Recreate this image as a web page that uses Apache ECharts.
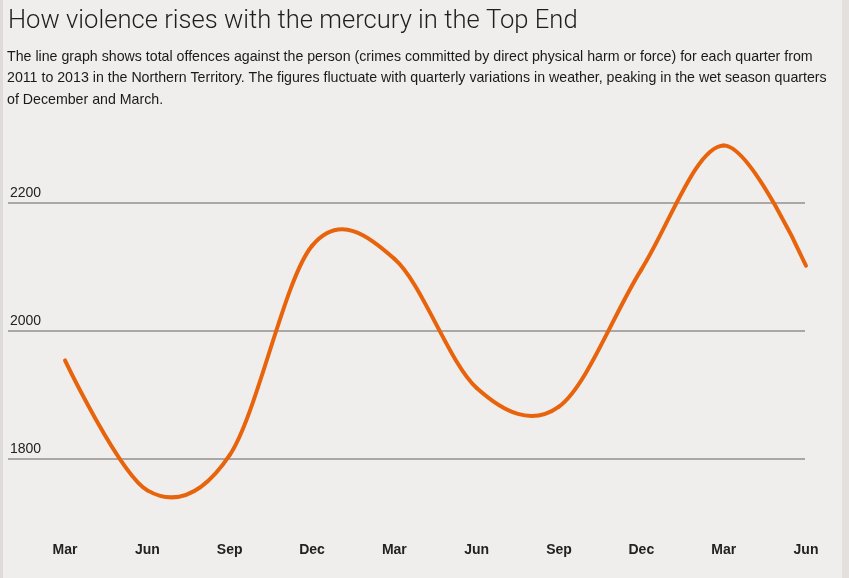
<!DOCTYPE html>
<html>
<head>
<meta charset="utf-8">
<script src="https://cdn.jsdelivr.net/npm/echarts@6/dist/echarts.min.js"></script>
<style>
  html, body { margin: 0; padding: 0; background: #f0eeec; }
  #chart { width: 849px; height: 578px; }
</style>
</head>
<body>
<div id="chart"></div>
<script>
// quarters 2011 - 2013
var quarters = ['Mar', 'Jun', 'Sep', 'Dec', 'Mar', 'Jun', 'Sep', 'Dec', 'Mar', 'Jun'];
// total offences against the person
var offences = [1954, 1751, 1806, 2133, 2113, 1911, 1882, 2096, 2290, 2102];
var yTicks = [1800, 2000, 2200];

var titleText = 'How violence rises with the mercury in the Top End';
var subText = 'The line graph shows total offences against the person (crimes committed by direct physical harm or force) for each quarter from\n' +
    '2011 to 2013 in the Northern Territory. The figures fluctuate with quarterly variations in weather, peaking in the wet season quarters\n' +
    'of December and March.';

var K = 1 / 6; // cardinal spline, tension 0

// pixel point of data index j, clamped to the ends
function pt(api, j) {
    j = Math.max(0, Math.min(offences.length - 1, j));
    return api.coord([j, offences[j]]);
}

// each item draws the curve piece from point i to point i + 1
function renderSegment(params, api) {
    var i = params.dataIndex;
    var last = offences.length - 1;
    if (i >= last) return;
    var a = pt(api, i), b = pt(api, i + 1);
    var c1 = a, c2 = b;
    if (i > 0) {
        var p0 = pt(api, i - 1);
        c1 = [a[0] + K * (b[0] - p0[0]), a[1] + K * (b[1] - p0[1])];
    }
    if (i + 1 < last) {
        var p3 = pt(api, i + 2);
        c2 = [b[0] - K * (p3[0] - a[0]), b[1] - K * (p3[1] - a[1])];
    }
    return {
        type: 'bezierCurve',
        shape: {
            x1: a[0], y1: a[1],
            x2: b[0], y2: b[1],
            cpx1: c1[0], cpy1: c1[1],
            cpx2: c2[0], cpy2: c2[1]
        },
        style: {
            fill: null,
            stroke: '#e8640c',
            lineWidth: 4,
            lineCap: 'round'
        }
    };
}

var chart = echarts.init(document.getElementById('chart'));
var option = {
    backgroundColor: '#f0eeec',
    animation: false,
    title: [{
        text: titleText,
        left: 3,
        top: 4,
        textStyle: {
            fontFamily: 'Roboto',
            fontWeight: 300,
            fontSize: 25.6,
            color: '#1e1e1e'
        }
    }, {
        text: subText,
        left: 2,
        top: 41,
        textStyle: {
            fontFamily: 'Liberation Sans',
            fontWeight: 'normal',
            fontSize: 14.2,
            lineHeight: 21.5,
            color: '#1a1a1a'
        }
    }],
    graphic: [
        { type: 'rect', shape: { x: 0, y: 0, width: 3, height: 578 }, style: { fill: '#dedbd8' } },
        { type: 'rect', shape: { x: 842, y: 0, width: 7, height: 578 }, style: { fill: '#e3e0dd' } }
    ],
    grid: [
        // horizontal rules and y labels
        { left: 8, right: 44, top: 75, height: 512, outerBoundsMode: 'none' },
        // the line itself
        { left: 65, right: 43, top: 139, height: 384, outerBoundsMode: 'none' }
    ],
    xAxis: [{
        gridIndex: 0,
        type: 'value',
        min: 0,
        max: 1,
        show: false
    }, {
        gridIndex: 1,
        type: 'category',
        data: quarters,
        boundaryGap: false,
        axisLine: { show: false },
        axisTick: { show: false },
        splitLine: { show: false },
        axisLabel: {
            margin: 20,
            fontFamily: 'Liberation Sans',
            fontWeight: 'bold',
            fontSize: 14,
            color: '#222'
        }
    }],
    yAxis: [{
        gridIndex: 0,
        type: 'value',
        min: 1600,
        max: 2400,
        interval: 200,
        axisLine: { show: false },
        axisTick: { show: false },
        splitLine: {
            show: true,
            showMinLine: false,
            showMaxLine: false,
            lineStyle: { color: '#aba7a4', width: 2 }
        },
        axisLabel: {
            inside: true,
            margin: 2,
            showMinLabel: false,
            showMaxLabel: false,
            verticalAlign: 'bottom',
            padding: [0, 0, 3, 0],
            fontFamily: 'Liberation Sans',
            fontSize: 14,
            color: '#222',
            formatter: function (v) {
                return yTicks.indexOf(v) >= 0 ? String(v) : '';
            }
        }
    }, {
        gridIndex: 1,
        type: 'value',
        min: 1700,
        max: 2300,
        show: false
    }],
    series: [{
        type: 'custom',
        xAxisIndex: 1,
        yAxisIndex: 1,
        clip: false,
        data: offences,
        renderItem: renderSegment
    }]
};
chart.setOption(option);
window.addEventListener('resize', function () {
    chart.resize();
});
</script>
</body>
</html>
